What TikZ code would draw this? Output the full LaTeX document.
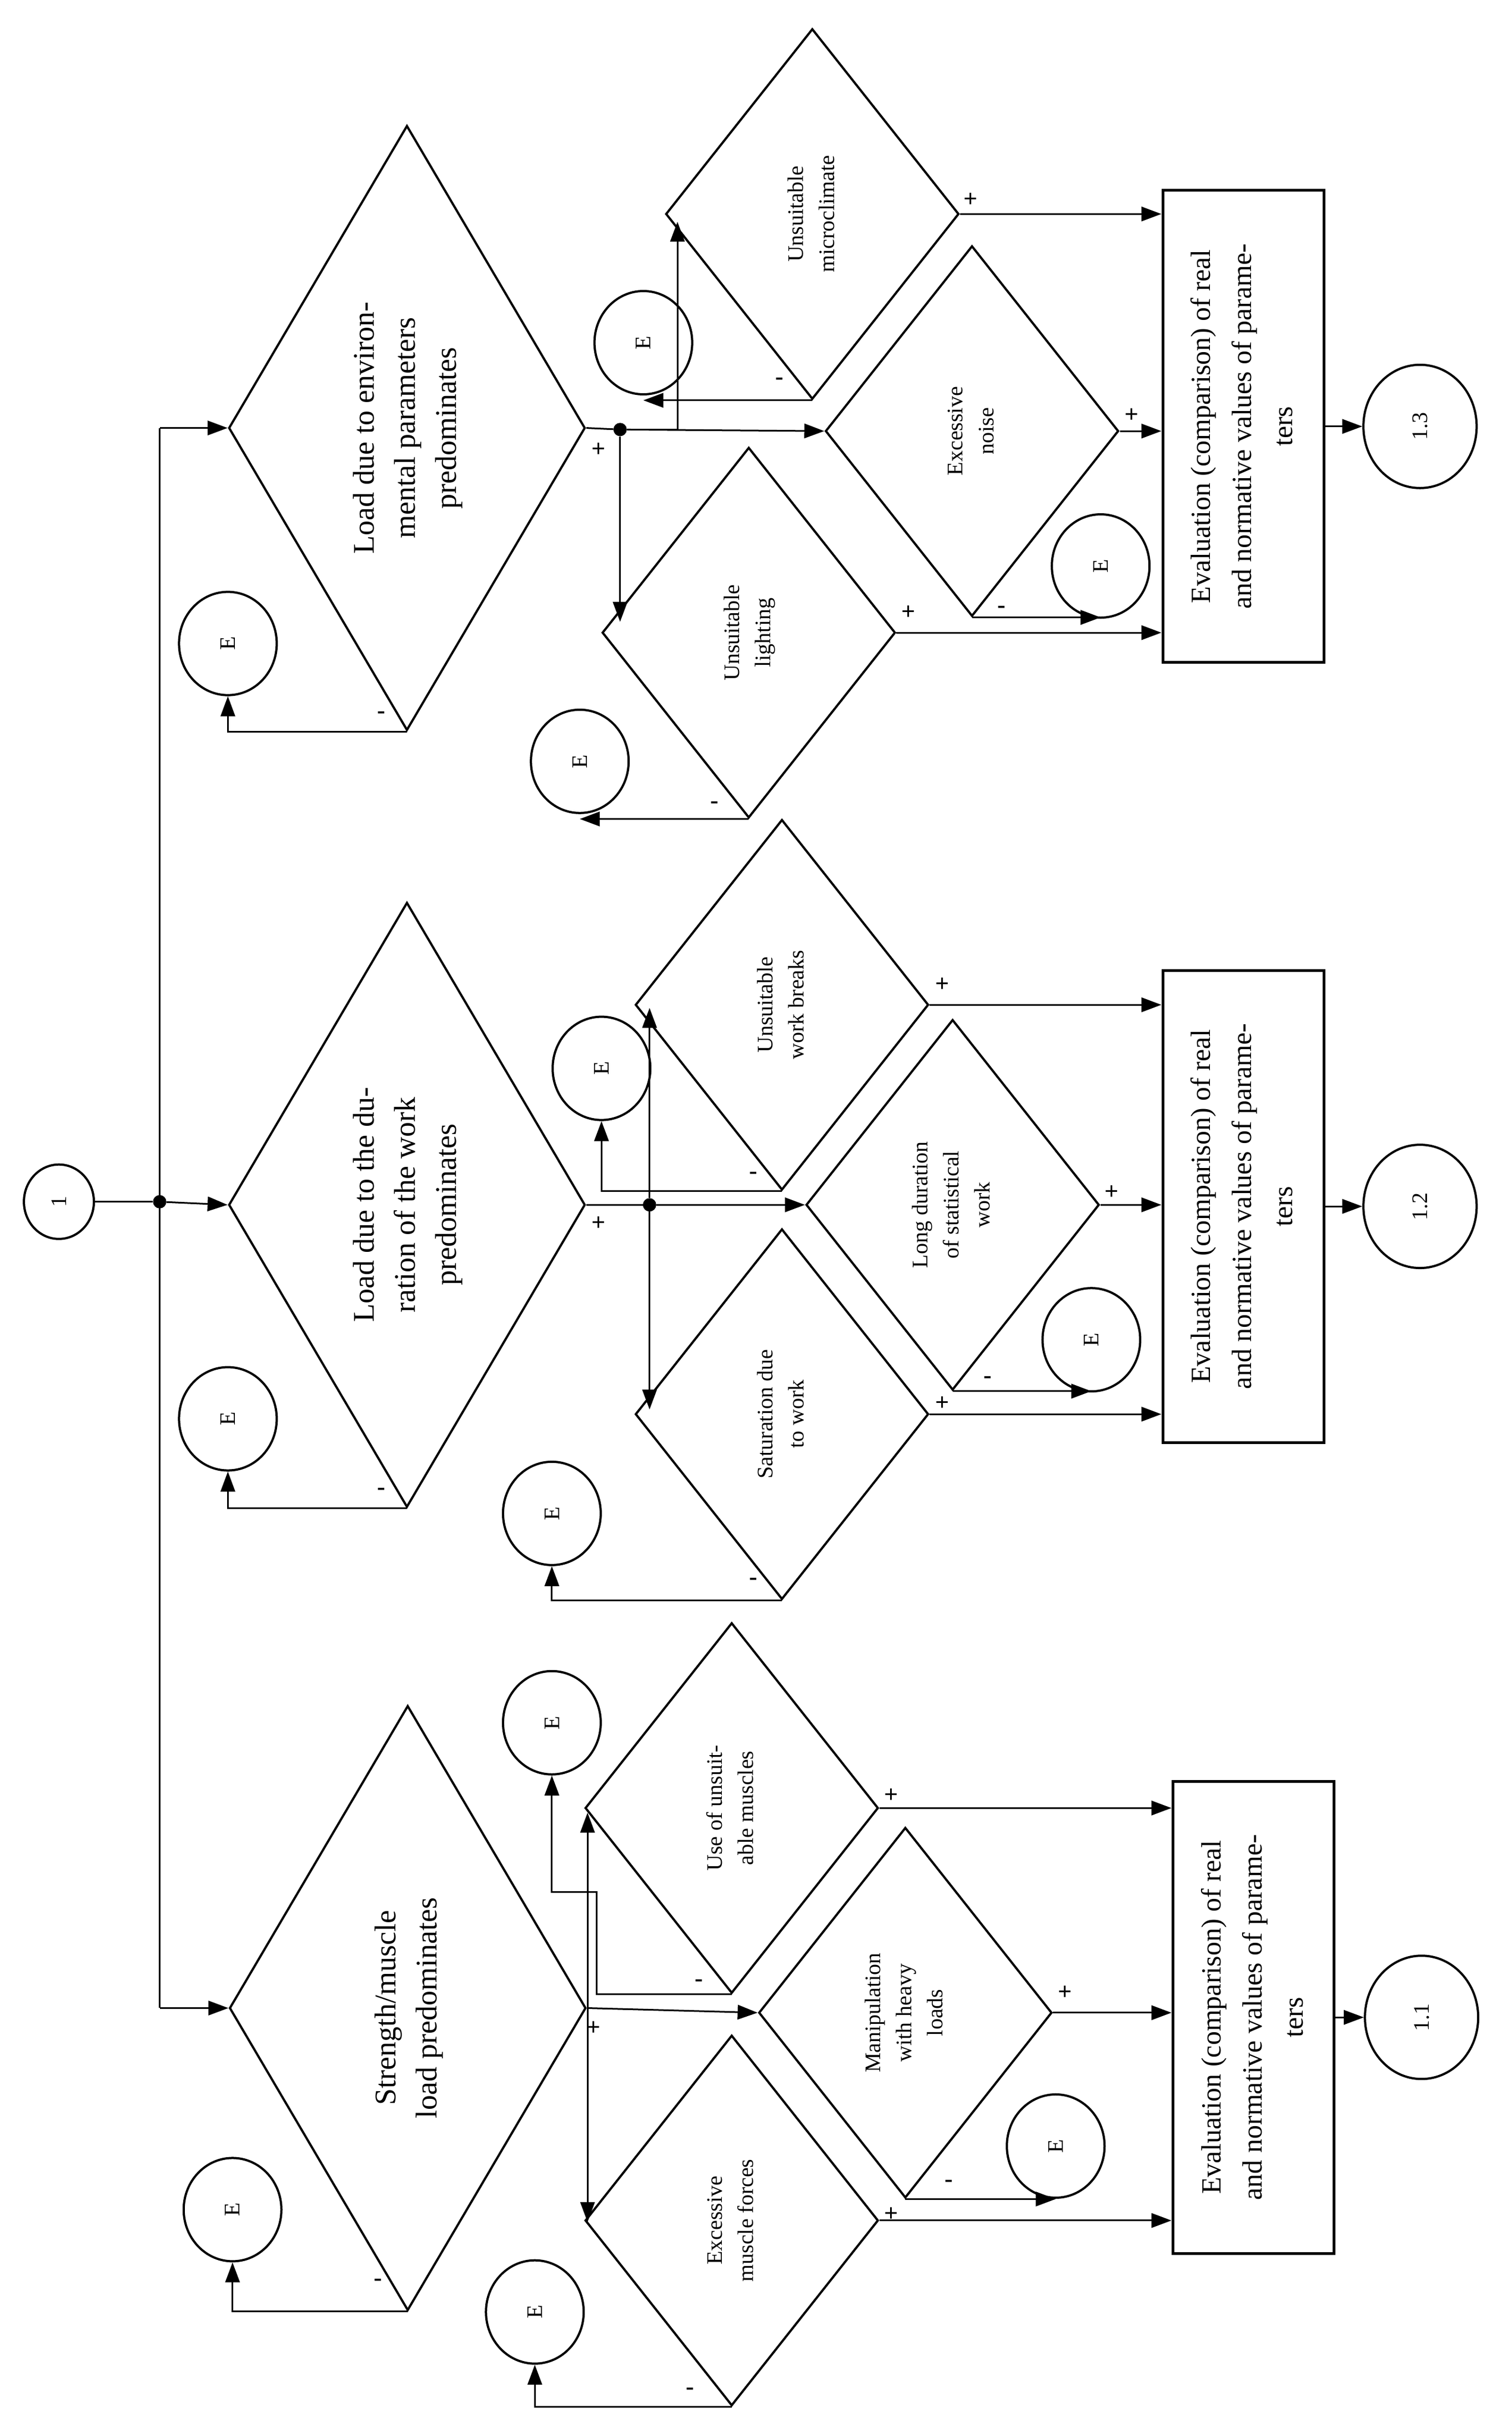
\documentclass[tikz,border=0pt]{standalone}
\usepackage{fontspec}
\setmainfont{Liberation Serif}
\usetikzlibrary{shapes.geometric,arrows.meta}
\newcommand{\rt}[3]{\rotatebox{90}{\fontsize{#1}{#2}\selectfont\begin{tabular}{@{}c@{}}#3\end{tabular}}}
\begin{document}
\begin{tikzpicture}[x=2.792pt,y=-2.792pt,
  big/.style={draw,line width=4pt,diamond,inner sep=0pt,minimum width=642pt,minimum height=1089pt,aspect=0.59},
  sm/.style={draw,line width=4pt,diamond,inner sep=0pt,minimum width=528pt,minimum height=667pt,aspect=0.79},
  bx/.style={draw,line width=5pt,rectangle,inner sep=0pt,minimum width=290pt,minimum height=850pt},
  ee/.style={draw,line width=4pt,ellipse,inner sep=0pt,minimum width=176pt,minimum height=186pt,font=\fontsize{40}{40}\selectfont},
  num/.style={draw,line width=4pt,ellipse,inner sep=0pt,minimum width=204pt,minimum height=222pt},
  dot/.style={circle,fill,inner sep=0pt,minimum size=24pt},
  arr/.style={line width=3pt,-{Triangle[length=36pt,width=26pt]}},
  ln/.style={line width=3pt},
  lab/.style={font=\fontsize{44}{44}\selectfont\bfseries,inner sep=0pt}]
\useasboundingbox (0,0) rectangle (975,1571);
% start
\node[draw,line width=4pt,ellipse,inner sep=0pt,minimum width=126pt,minimum height=134pt] (c1) at (38,775) {\rotatebox{90}{\fontsize{40}{40}\selectfont 1}};
\node[dot] (d0) at (103,775) {};
\coordinate (t1) at (103,276);
\coordinate (t3) at (103,1295);
% big diamonds
\node[big] (D1) at (262.5,276) {\rt{54}{74}{Load due to environ-\\mental parameters\\predominates}};
\node[big] (D2) at (262.5,777) {\rt{54}{74}{Load due to the du-\\ration of the work\\predominates}};
\node[big] (D3) at (263,1295) {\rt{54}{74}{Strength/muscle\\load predominates}};
\draw[ln] (c1) -- (d0);
\draw[ln] (t1) -- (t3);
\draw[arr] (t1) -- (D1.west);
\draw[arr] (d0) -- (D2.west);
\draw[arr] (t3) -- (D3.west);
\node[ee] (E1) at (147,415) {\rotatebox{90}{E}};
\node[ee] (E2) at (147,915) {\rotatebox{90}{E}};
\node[ee] (E3) at (150,1425) {\rotatebox{90}{E}};
\draw[arr] (D1.south) -| (E1.south);
\draw[arr] (D2.south) -| (E2.south);
\draw[arr] (D3.south) -| (E3.south);
\node[lab] at (246,461) {-};
\node[lab] at (246,962) {-};
\node[lab] at (244,1472) {-};
% ===== environment group =====
\node[sm] (micro) at (524,138) {\rt{40}{56}{Unsuitable\\microclimate}};
\node[sm] (noise) at (627,278) {\rt{40}{56}{Excessive\\noise}};
\node[sm] (light) at (483,408) {\rt{40}{56}{Unsuitable\\lighting}};
\node[ee] (Emicro) at (415,221) {\rotatebox{90}{E}};
\node[ee] (Enoise) at (710,365) {\rotatebox{90}{E}};
\node[ee] (Elight) at (374,491) {\rotatebox{90}{E}};
\node[bx] (bA) at (802,275) {\rt{50}{74}{Evaluation (comparison) of real\\and normative values of parame-\\ters}};
\node[num] (cA) at (916,275) {\rotatebox{90}{\fontsize{40}{40}\selectfont 1.3}};
\node[dot] (d1) at (400,277) {};
\coordinate (m1) at (437,143);
\coordinate (l1) at (400,401);
\draw[ln] (D1.east) -- (d1);
\draw[arr] (d1) -- (noise.west);
\draw[arr] (d1) -| (m1);
\draw[arr] (d1) -- (l1);
\draw[arr] (micro.south) -- (micro.south -| Emicro.south);
\draw[arr] (noise.south) -- (noise.south -| Enoise.south);
\draw[arr] (light.south) -- (light.south -| Elight.south);
\draw[arr] (micro.east) -- (micro.east -| bA.west);
\draw[arr] (noise.east) -- (noise.east -| bA.west);
\draw[arr] (light.east) -- (light.east -| bA.west);
\draw[arr] (bA.east) -- (cA.west);
\node[lab] at (386,290) {+};
\node[lab] at (626,129) {+};
\node[lab] at (730,268) {+};
\node[lab] at (586,395) {+};
\node[lab] at (503,246) {-};
\node[lab] at (646,393) {-};
\node[lab] at (461,519) {-};
% ===== duration group =====
\node[sm] (breaks) at (504.4,648) {\rt{40}{56}{Unsuitable\\work breaks}};
\node[sm] (long) at (614.5,777) {\rt{40}{56}{Long duration\\of statistical\\work}};
\node[sm] (sat) at (504.4,912) {\rt{40}{56}{Saturation due\\to work}};
\node[ee] (Ebreaks) at (388,689) {\rotatebox{90}{E}};
\node[ee] (Elong) at (704,864) {\rotatebox{90}{E}};
\node[ee] (Esat) at (356,976) {\rotatebox{90}{E}};
\node[bx] (bB) at (802,778) {\rt{50}{74}{Evaluation (comparison) of real\\and normative values of parame-\\ters}};
\node[num] (cB) at (916,778) {\rotatebox{90}{\fontsize{40}{40}\selectfont 1.2}};
\node[dot] (d2) at (419,777) {};
\coordinate (b1) at (419,650);
\coordinate (s1) at (419,909);
\draw[ln] (D2.east) -- (d2);
\draw[arr] (d2) -- (long.west);
\draw[arr] (d2) -- (b1);
\draw[arr] (d2) -- (s1);
\draw[arr] (breaks.south) -| (Ebreaks.south);
\draw[arr] (long.south) -- (long.south -| Elong.south);
\draw[arr] (sat.south) -| (Esat.south);
\draw[arr] (breaks.east) -- (breaks.east -| bB.west);
\draw[arr] (long.east) -- (long.east -| bB.west);
\draw[arr] (sat.east) -- (sat.east -| bB.west);
\draw[arr] (bB.east) -- (cB.west);
\node[lab] at (386,789) {+};
\node[lab] at (608,635) {+};
\node[lab] at (717,769) {+};
\node[lab] at (608,905) {+};
\node[lab] at (486,758) {-};
\node[lab] at (637,890) {-};
\node[lab] at (486,1020) {-};
% ===== strength group =====
\node[sm] (use) at (472,1166) {\rt{40}{56}{Use of unsuit-\\able muscles}};
\node[sm] (manip) at (584,1298) {\rt{40}{56}{Manipulation\\with heavy\\loads}};
\node[sm] (exc) at (472,1432) {\rt{40}{56}{Excessive\\muscle forces}};
\node[ee] (Euse) at (356,1111) {\rotatebox{90}{E}};
\node[ee] (Emanip) at (681,1384) {\rotatebox{90}{E}};
\node[ee] (Eexc) at (345,1491) {\rotatebox{90}{E}};
\node[bx] (bC) at (808.5,1301) {\rt{50}{74}{Evaluation (comparison) of real\\and normative values of parame-\\ters}};
\node[num] (cC) at (917,1301) {\rotatebox{90}{\fontsize{40}{40}\selectfont 1.1}};
\coordinate (u1) at (379,1169);
\coordinate (x1) at (379,1433);
\coordinate (v3) at (379,1295);
\coordinate (j1) at (385,1220);
\draw[arr] (D3.east) -- (manip.west);
\draw[arr] (v3) -- (u1);
\draw[arr] (v3) -- (x1);
\draw[arr] (use.south) -| (j1) -| (Euse.south);
\draw[arr] (manip.south) -- (manip.south -| Emanip.south);
\draw[arr] (exc.south) -| (Eexc.south);
\draw[arr] (use.east) -- (use.east -| bC.west);
\draw[arr] (manip.east) -- (manip.east -| bC.west);
\draw[arr] (exc.east) -- (exc.east -| bC.west);
\draw[arr] (bC.east) -- (cC.west);
\node[lab] at (383,1308) {+};
\node[lab] at (575,1158) {+};
\node[lab] at (687,1285) {+};
\node[lab] at (575,1428) {+};
\node[lab] at (451,1279) {-};
\node[lab] at (612,1408) {-};
\node[lab] at (445,1542) {-};
\end{tikzpicture}
\end{document}
